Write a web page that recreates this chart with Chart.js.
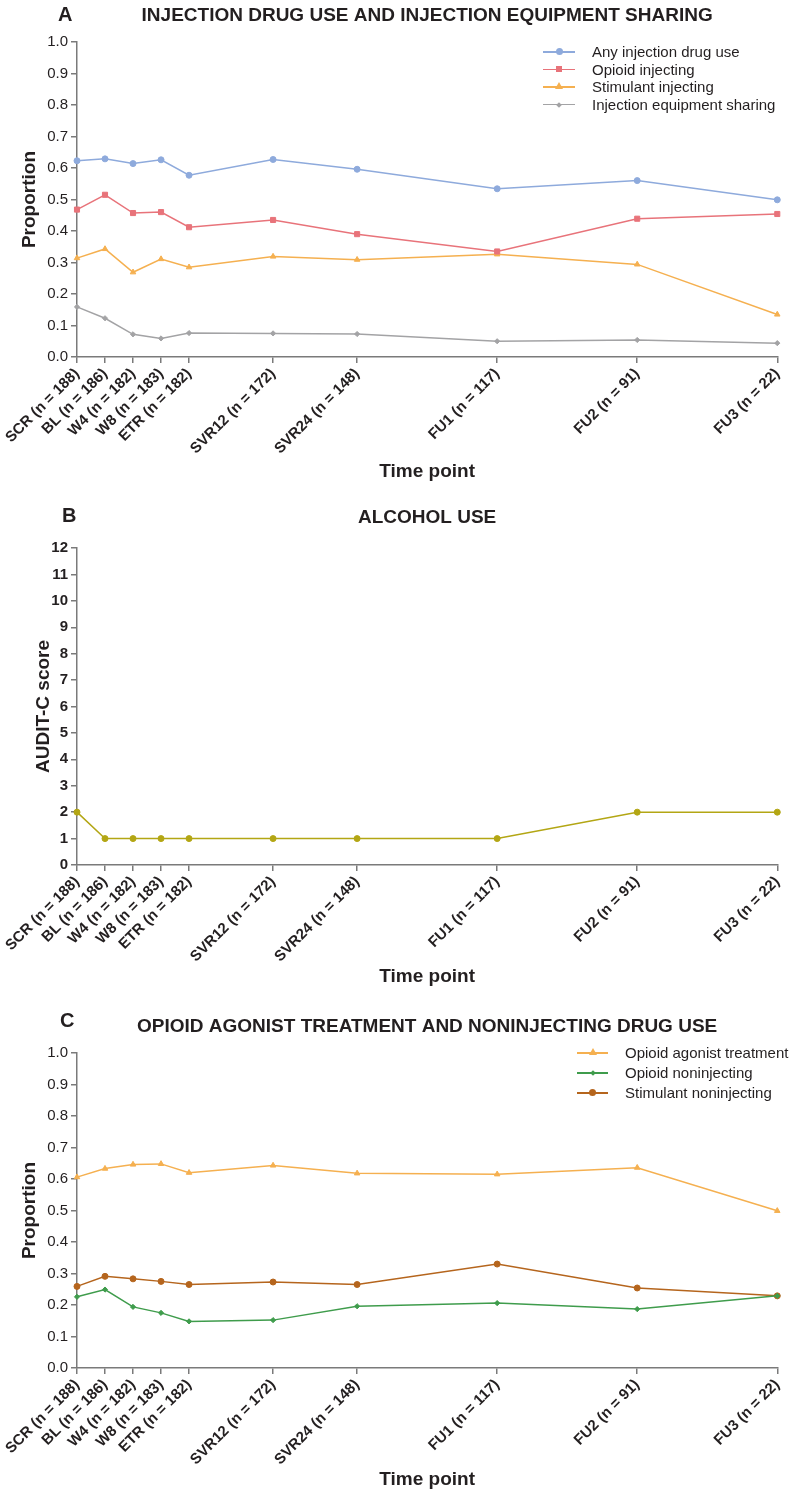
<!DOCTYPE html>
<html>
<head>
<meta charset="utf-8">
<script src="https://cdn.jsdelivr.net/npm/chart.js@4/dist/chart.umd.min.js"></script>
<style>
  body { margin: 0; background: #fff; font-family: "Liberation Sans", Arial, sans-serif; color: #231f20; }
  .panel { position: relative; width: 792px; }
  .panel canvas { display: block; }
  .letter { position: absolute; font-weight: bold; font-size: 20px; line-height: 20px; }
  .legend { position: absolute; font-size: 15px; }
  .legend .row { position: absolute; left: 0; height: 18px; white-space: nowrap; }
  .legend .line { position: absolute; top: 8px; height: 1.5px; }
  .legend .mark { position: absolute; }
  .legend .txt { position: absolute; top: 0; line-height: 18px; }
</style>
</head>
<body>
<div class="panel">
  <canvas id="chartA" width="792" height="500"></canvas>
  <div class="letter" style="left:58px; top:4px;">A</div>
  <div class="legend" id="legendA" style="left:543px; top:43px;"></div>
</div>
<div class="panel">
  <canvas id="chartB" width="792" height="500"></canvas>
  <div class="letter" style="left:62px; top:5px;">B</div>
</div>
<div class="panel">
  <canvas id="chartC" width="792" height="494"></canvas>
  <div class="letter" style="left:60px; top:10px;">C</div>
  <div class="legend" id="legendC" style="left:577px; top:44px;"></div>
</div>
<script>
// time points, placed by study week
const weeks = [-4, 0, 4, 8, 12, 24, 36, 56, 76, 96];
const timeLabels = ['SCR (n = 188)', 'BL (n = 186)', 'W4 (n = 182)', 'W8 (n = 183)', 'ETR (n = 182)',
  'SVR12 (n = 172)', 'SVR24 (n = 148)', 'FU1 (n = 117)', 'FU2 (n = 91)', 'FU3 (n = 22)'];

// panel A
const anyInjecting = [0.623, 0.629, 0.614, 0.626, 0.577, 0.627, 0.596, 0.534, 0.560, 0.499];
const opioidInjecting = [0.468, 0.515, 0.457, 0.460, 0.412, 0.435, 0.390, 0.335, 0.439, 0.454];
const stimulantInjecting = [0.314, 0.343, 0.269, 0.311, 0.285, 0.319, 0.309, 0.326, 0.294, 0.135];
const equipmentSharing = [0.159, 0.123, 0.072, 0.059, 0.076, 0.075, 0.073, 0.050, 0.054, 0.044];

// panel B
const auditC = [2, 1, 1, 1, 1, 1, 1, 1, 2, 2];

// panel C
const agonistTreatment = [0.606, 0.633, 0.646, 0.648, 0.620, 0.643, 0.618, 0.615, 0.636, 0.499];
const opioidNoninjecting = [0.226, 0.249, 0.194, 0.175, 0.148, 0.152, 0.196, 0.206, 0.187, 0.229];
const stimulantNoninjecting = [0.259, 0.291, 0.283, 0.275, 0.265, 0.273, 0.265, 0.330, 0.254, 0.229];

const FONT = '"Liberation Sans", Arial, sans-serif';
const INK = '#231f20';
const AXIS = '#7a7a7a';

function makePanel(id, p) {
  const canvas = document.getElementById(id);
  const H = canvas.height;
  return new Chart(canvas, {
    type: 'line',
    data: {
      datasets: p.series.map(s => ({
        label: s.label,
        data: weeks.map((w, i) => ({ x: w, y: s.values[i] })),
        borderColor: s.color,
        backgroundColor: s.color,
        borderWidth: 1.5,
        pointStyle: s.marker,
        pointRadius: s.radius,
        pointBorderWidth: 1,
        tension: 0,
        clip: false
      }))
    },
    options: {
      responsive: false,
      animation: false,
      devicePixelRatio: 1,
      layout: { padding: { left: 0, right: 5, top: 0, bottom: 0 } },
      plugins: {
        legend: { display: false },
        tooltip: { enabled: false },
        title: {
          display: true, text: p.title, fullSize: false, color: INK,
          font: { family: FONT, size: 19, weight: 'bold' },
          padding: { top: p.titleTop, bottom: p.titleBottom }
        }
      },
      scales: {
        x: {
          type: 'linear', min: -4, max: 96,
          afterBuildTicks: s => { s.ticks = weeks.map(v => ({ value: v })); },
          afterFit: s => { s.height = H - p.plotBottom; },
          border: { color: AXIS, width: 1.5 },
          grid: { drawOnChartArea: false, tickLength: 6, color: AXIS, lineWidth: 1.5 },
          ticks: {
            autoSkip: false, minRotation: 45, maxRotation: 45, padding: 2, color: INK,
            font: { family: FONT, size: 15, weight: 'bold' },
            callback: v => timeLabels[weeks.indexOf(v)]
          },
          title: {
            display: true, text: 'Time point', color: INK,
            font: { family: FONT, size: 19, weight: 'bold' },
            padding: { top: 0, bottom: p.xTitleBottom }
          }
        },
        y: {
          min: p.yMin, max: p.yMax,
          afterFit: s => { s.width = 77; },
          border: { color: AXIS, width: 1.5 },
          grid: { drawOnChartArea: false, tickLength: 6, color: AXIS, lineWidth: 1.5 },
          ticks: {
            stepSize: p.yStep, padding: 3, color: INK,
            font: { family: FONT, size: 15, weight: p.yTickWeight },
            callback: p.yFormat
          },
          title: {
            display: true, text: p.yTitle, color: INK,
            font: { family: FONT, size: 19, weight: 'bold' },
            padding: { top: p.yTitlePad, bottom: 0 }
          }
        }
      }
    }
  });
}

function buildLegend(id, series, lineW, textX, gap) {
  const box = document.getElementById(id);
  series.forEach((s, i) => {
    const row = document.createElement('div');
    row.className = 'row';
    row.style.top = (i * gap) + 'px';
    const line = document.createElement('div');
    line.className = 'line';
    line.style.left = '0px';
    line.style.width = lineW + 'px';
    line.style.background = s.color;
    row.appendChild(line);
    const m = document.createElement('div');
    m.className = 'mark';
    const cx = lineW / 2, cy = 8.75;
    if (s.marker === 'triangle') {
      Object.assign(m.style, { left: (cx - 4) + 'px', top: (cy - 5) + 'px', width: '0', height: '0',
        borderLeft: '4px solid transparent', borderRight: '4px solid transparent', borderBottom: '7px solid ' + s.color });
    } else {
      const sz = s.marker === 'rectRot' ? 4 : (s.marker === 'rect' ? 6 : 7);
      Object.assign(m.style, { left: (cx - sz / 2) + 'px', top: (cy - sz / 2) + 'px', width: sz + 'px', height: sz + 'px',
        background: s.color, borderRadius: s.marker === 'circle' ? '50%' : '0',
        transform: s.marker === 'rectRot' ? 'rotate(45deg)' : 'none' });
    }
    row.appendChild(m);
    const t = document.createElement('div');
    t.className = 'txt';
    t.style.left = textX + 'px';
    t.textContent = s.label;
    row.appendChild(t);
    box.appendChild(row);
  });
}

const seriesA = [
  { label: 'Any injection drug use', values: anyInjecting, color: '#8eaadc', marker: 'circle', radius: 3 },
  { label: 'Opioid injecting', values: opioidInjecting, color: '#e8737a', marker: 'rect', radius: 3.6 },
  { label: 'Stimulant injecting', values: stimulantInjecting, color: '#f5b050', marker: 'triangle', radius: 3.2 },
  { label: 'Injection equipment sharing', values: equipmentSharing, color: '#a3a3a5', marker: 'rectRot', radius: 2.6 }
];
const seriesB = [
  { label: 'AUDIT-C score', values: auditC, color: '#b3a614', marker: 'circle', radius: 3 }
];
const seriesC = [
  { label: 'Opioid agonist treatment', values: agonistTreatment, color: '#f5b050', marker: 'triangle', radius: 3.2 },
  { label: 'Opioid noninjecting', values: opioidNoninjecting, color: '#3f9c4c', marker: 'rectRot', radius: 2.6 },
  { label: 'Stimulant noninjecting', values: stimulantNoninjecting, color: '#b5651d', marker: 'circle', radius: 3 }
];

const fmt1 = v => v.toFixed(1);

makePanel('chartA', {
  series: seriesA, title: 'INJECTION DRUG USE AND INJECTION EQUIPMENT SHARING',
  titleTop: 4, titleBottom: 15.2, plotBottom: 357, xTitleBottom: 16.6,
  yMin: 0, yMax: 1, yStep: 0.1, yFormat: fmt1, yTickWeight: 'normal',
  yTitle: 'Proportion', yTitlePad: 18.6
});
makePanel('chartB', {
  series: seriesB, title: 'ALCOHOL USE',
  titleTop: 6.6, titleBottom: 18.6, plotBottom: 365, xTitleBottom: 11.6,
  yMin: 0, yMax: 12, yStep: 1, yFormat: v => v, yTickWeight: 'bold',
  yTitle: 'AUDIT-C score', yTitlePad: 32.6
});
makePanel('chartC', {
  series: seriesC, title: 'OPIOID AGONIST TREATMENT AND NONINJECTING DRUG USE',
  titleTop: 15.6, titleBottom: 14.6, plotBottom: 368, xTitleBottom: 2.6,
  yMin: 0, yMax: 1, yStep: 0.1, yFormat: fmt1, yTickWeight: 'normal',
  yTitle: 'Proportion', yTitlePad: 18.6
});

buildLegend('legendA', seriesA, 32, 49, 17.6);
buildLegend('legendC', seriesC, 31, 48, 20);
</script>
</body>
</html>
